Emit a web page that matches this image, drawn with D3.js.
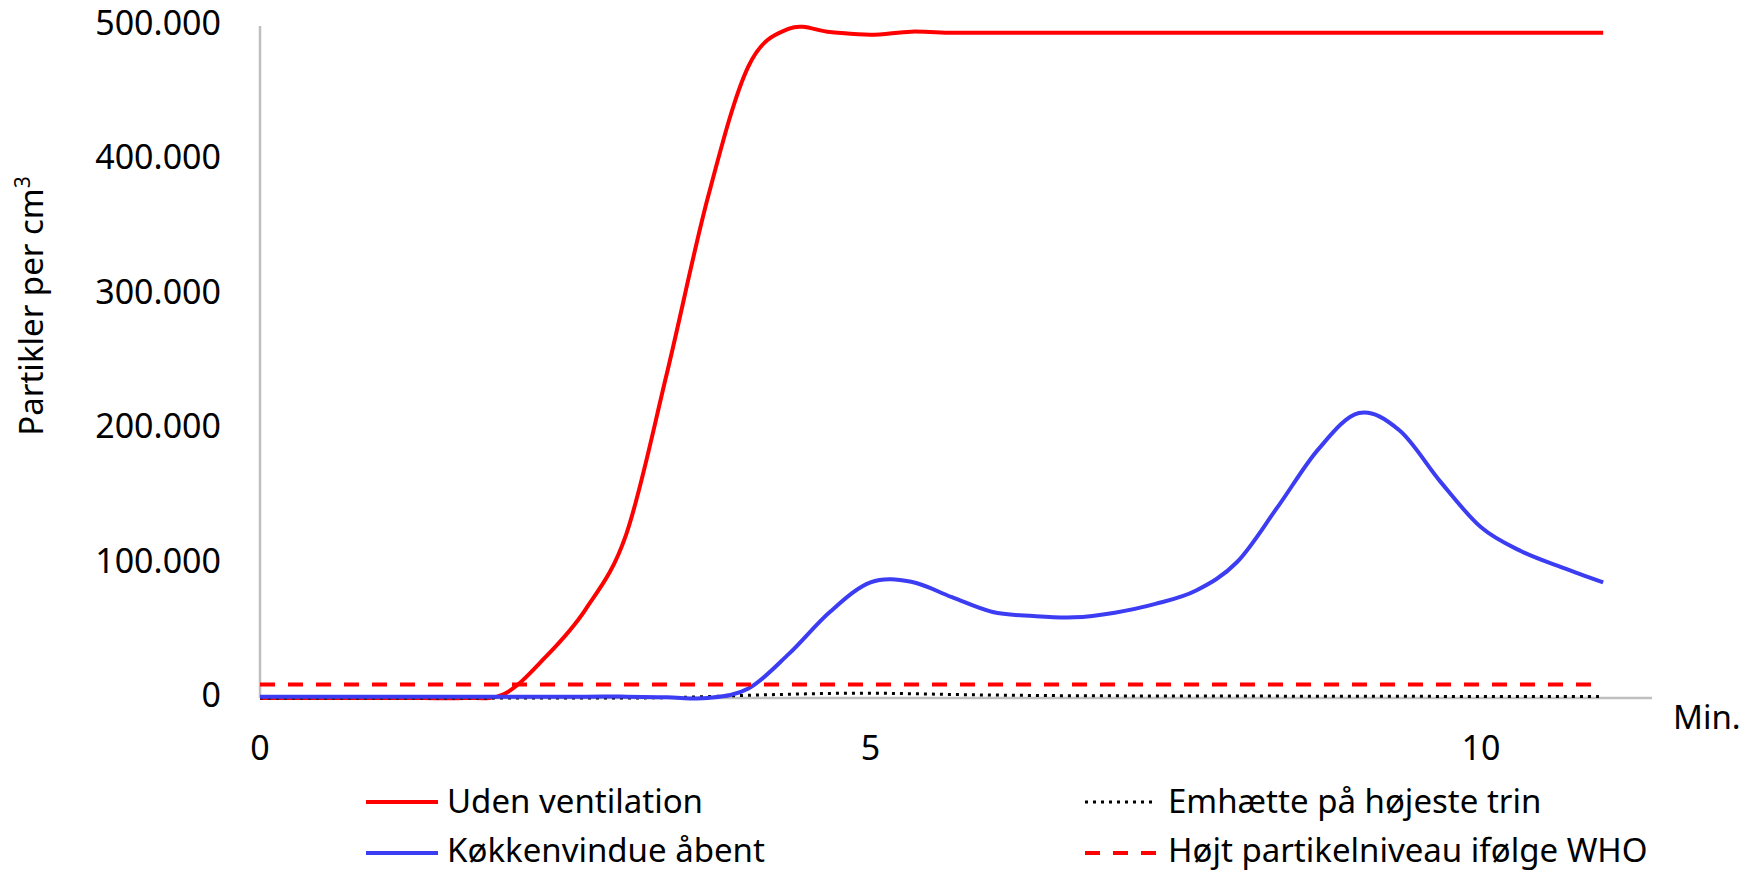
<!DOCTYPE html>
<html lang="da">
<head>
<meta charset="utf-8">
<script src="https://cdn.jsdelivr.net/npm/d3@7"></script>
<style>
  html, body { margin: 0; padding: 0; background: #fff; }
  svg { display: block; font-family: "Noto Sans", "Open Sans", sans-serif; }
</style>
</head>
<body>
<svg id="chart" width="1742" height="873"></svg>
<script>
// Minutes since start, one reading every 20 seconds
const minutes = [
  0, 1/3, 2/3, 1, 4/3, 5/3, 2, 7/3, 8/3, 3, 10/3, 11/3,
  4, 13/3, 14/3, 5, 16/3, 17/3, 6, 19/3, 20/3, 7, 22/3, 23/3,
  8, 25/3, 26/3, 9, 28/3, 29/3, 10, 31/3, 32/3, 11
];

// Particles per cm³
const udenVentilation = [
  0, 0, 0, 0, 0, 0, 3000, 30000, 66000, 122000, 242000, 372000,
  470000, 498000, 495500, 493500, 495800, 495000, 495000, 495000, 495000, 495000, 495000, 495000,
  495000, 495000, 495000, 495000, 495000, 495000, 495000, 495000, 495000, 495000
];
const emhaette = [
  0, 0, 0, 0, 0, 0, 0, 0, 0, 0, 300, 1000,
  2000, 2800, 3400, 3600, 3200, 2600, 2200, 1900, 1700, 1600, 1500, 1500,
  1400, 1400, 1300, 1300, 1300, 1200, 1200, 1200, 1200, 1200
];
const koekkenvindue = [
  1000, 1000, 1000, 1000, 1000, 1000, 1000, 1000, 1000, 1000, 500, 0,
  7000, 33000, 64000, 86000, 86500, 75000, 64000, 61000, 60000, 63500, 70000, 80000,
  101000, 142000, 185000, 212000, 199000, 161000, 127000, 109000, 97000, 86000
];
const whoNiveau = minutes.map(() => 10000);

const yTicks = [0, 100000, 200000, 300000, 400000, 500000];
const xTicks = [0, 5, 10];

const series = [
  { name: "Uden ventilation", values: udenVentilation, color: "#ff0000", width: 4, dash: null, smooth: true },
  { name: "Emhætte på højeste trin", values: emhaette, color: "#000000", width: 3, dash: "3 5", smooth: true },
  { name: "Køkkenvindue åbent", values: koekkenvindue, color: "#3c3cf2", width: 4, dash: null, smooth: true },
  { name: "Højt partikelniveau ifølge WHO", values: whoNiveau, color: "#ff0000", width: 4, dash: "15 13", smooth: false }
];

const svg = d3.select("#chart");

const x = d3.scaleLinear().domain([0, 11.4]).range([260, 1652]);
const y = d3.scaleLinear().domain([0, 500000]).range([698, 26]);

const da = d3.formatLocale({ decimal: ",", thousands: ".", grouping: [3], currency: ["", " kr."] });
const fmt = da.format(",d");

// Axis lines
svg.append("line")
  .attr("x1", x(0)).attr("x2", x(0))
  .attr("y1", y(500000)).attr("y2", y(0))
  .attr("stroke", "#bfbfbf").attr("stroke-width", 2.5);
svg.append("line")
  .attr("x1", x(0)).attr("x2", x(11.4))
  .attr("y1", y(0)).attr("y2", y(0))
  .attr("stroke", "#bfbfbf").attr("stroke-width", 2.5);

// Y tick labels
svg.append("g").selectAll("text")
  .data(yTicks).join("text")
  .attr("x", 221)
  .attr("y", d => y(d) + 9)
  .attr("text-anchor", "end")
  .attr("font-size", 34)
  .attr("fill", "#000")
  .text(d => fmt(d));

// X tick labels
svg.append("g").selectAll("text")
  .data(xTicks).join("text")
  .attr("x", d => x(d))
  .attr("y", 760)
  .attr("text-anchor", "middle")
  .attr("font-size", 34)
  .attr("fill", "#000")
  .text(d => d);

// X axis unit
svg.append("text")
  .attr("x", 1673).attr("y", 729)
  .attr("font-size", 33)
  .attr("fill", "#000")
  .text("Min.");

// Y axis title
const yTitle = svg.append("text")
  .attr("transform", "translate(43,306) rotate(-90)")
  .attr("text-anchor", "middle")
  .attr("font-size", 33)
  .attr("fill", "#000");
yTitle.append("tspan").text("Partikler per cm");
yTitle.append("tspan").attr("font-size", 21).attr("dy", -13).text("3");

// Data lines
const smoothLine = d3.line()
  .x((d, i) => x(minutes[i]))
  .y(d => y(d))
  .curve(d3.curveCardinal.tension(0));
const straightLine = d3.line()
  .x((d, i) => x(minutes[i]))
  .y(d => y(d));

svg.append("g").selectAll("path")
  .data(series).join("path")
  .attr("d", s => (s.smooth ? smoothLine : straightLine)(s.values))
  .attr("fill", "none")
  .attr("stroke", s => s.color)
  .attr("stroke-width", s => s.width)
  .attr("stroke-dasharray", s => s.dash)
  .attr("stroke-linejoin", "round");

// Legend, two columns filled row by row
const legendPos = [
  { lx: 366, tx: 447, ty: 802, base: 813 },
  { lx: 1085, tx: 1168, ty: 802, base: 813 },
  { lx: 366, tx: 447, ty: 853, base: 862 },
  { lx: 1085, tx: 1168, ty: 853, base: 862 }
];
const legend = svg.append("g").selectAll("g")
  .data(series).join("g");
legend.append("line")
  .attr("x1", (s, i) => legendPos[i].lx)
  .attr("x2", (s, i) => legendPos[i].lx + 72)
  .attr("y1", (s, i) => legendPos[i].ty)
  .attr("y2", (s, i) => legendPos[i].ty)
  .attr("stroke", s => s.color)
  .attr("stroke-width", s => s.width)
  .attr("stroke-dasharray", s => s.dash);
legend.append("text")
  .attr("x", (s, i) => legendPos[i].tx)
  .attr("y", (s, i) => legendPos[i].base)
  .attr("font-size", 33)
  .attr("fill", "#000")
  .text(s => s.name);
</script>
</body>
</html>
